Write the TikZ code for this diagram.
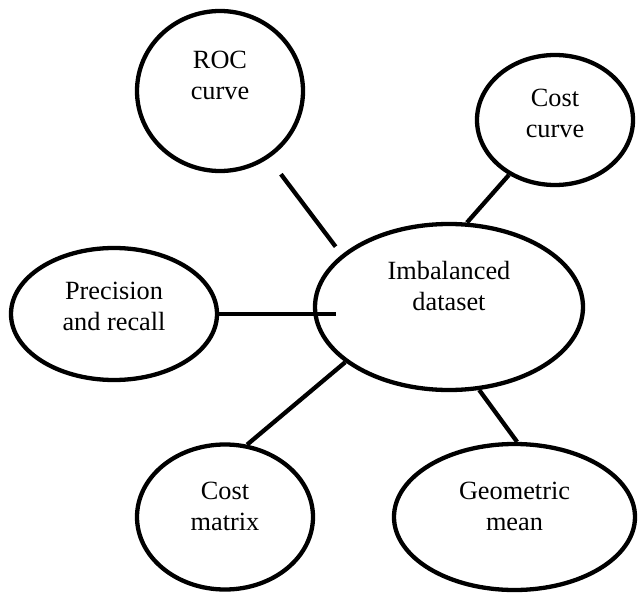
\documentclass[tikz,border=0pt]{standalone}
\usepackage{fontspec}
\setmainfont{Liberation Serif}
\usepackage{tikz}
\usetikzlibrary{shapes.geometric, positioning, calc}

\begin{document}
\begin{tikzpicture}[
  x=1pt, y=-1pt,
  bubble/.style={draw, ellipse, line width=4.3pt, inner sep=0pt},
  txt/.style={font=\fontsize{26.3}{31}\selectfont, align=center, inner sep=0pt},
  link/.style={line width=4.3pt},
]
\useasboundingbox (0,0) rectangle (638,594);

% ── Centre ───────────────────────────────────────────────────
\node[bubble, minimum width=268pt, minimum height=166pt] (hub) at (449,307) {};
\node[txt] (hubtxt) at ([yshift=20.5pt]hub.center) {Imbalanced\\dataset};

% ── Measures round it ────────────────────────────────────────
\node[bubble, minimum width=166pt, minimum height=160pt] (roc) at (220,91) {};
\node[txt] (roctxt) at ([yshift=15.5pt]roc.center) {ROC\\curve};

\node[bubble, minimum width=156pt, minimum height=130pt] (costcurve) at (555,120) {};
\node[txt] (costcurvetxt) at ([yshift=6.5pt]costcurve.center) {Cost\\curve};

\node[bubble, minimum width=206pt, minimum height=132pt] (precision) at (114,314) {};
\node[txt] (precisiontxt) at ([yshift=7.5pt]precision.center) {Precision\\and recall};

\node[bubble, minimum width=176pt, minimum height=145pt] (costmatrix) at (225,517) {};
\node[txt] (costmatrixtxt) at ([yshift=10.5pt]costmatrix.center) {Cost\\matrix};

\node[bubble, minimum width=241pt, minimum height=146pt] (gmean) at (514.5,517) {};
\node[txt] (gmeantxt) at ([yshift=10.5pt]gmean.center) {Geometric\\mean};

% ── Links ────────────────────────────────────────────────────
\draw[link, shorten <=20pt, shorten >=10pt] (roc.-54) -- (hub.154);
\draw[link] (costcurve.-130) -- (hub.78);
\draw[link, shorten >=-23pt] (precision.east) -- (precision.east -| hub.west);
\draw[link] (costmatrix.73) -- (hub.-152);
\draw[link] (hub.-70) -- (gmean.88);

\end{tikzpicture}
\end{document}
